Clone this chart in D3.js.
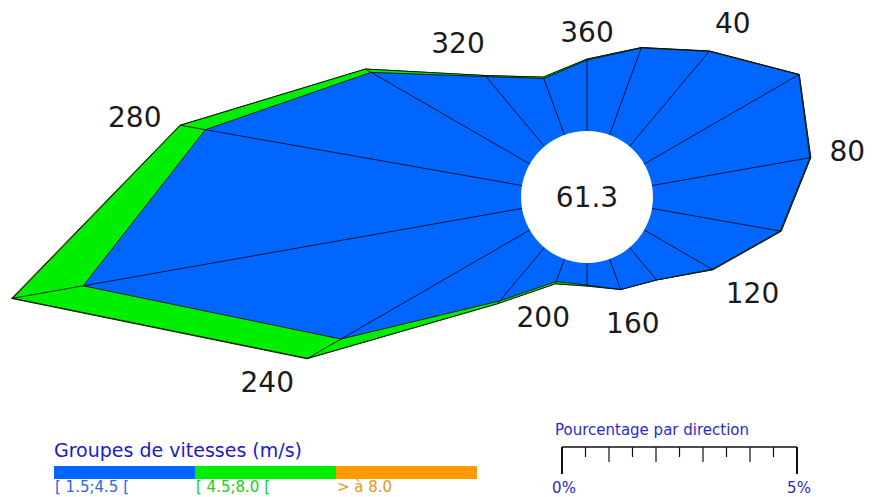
<!DOCTYPE html>
<html>
<head>
<meta charset="utf-8">
<script src="https://cdn.jsdelivr.net/npm/d3@7"></script>
<style>
  body { margin: 0; background: #fff; }
  text { font-family: "DejaVu Sans", Verdana, sans-serif; }
</style>
</head>
<body>
<div id="chart"></div>
<script>

// wind rose - frequency (%) per direction and speed group
var directions = [0, 20, 40, 60, 80, 100, 120, 140, 160, 180, 200, 220, 240, 260, 280, 300, 320, 340];
var lowSpeed  = [1.51, 1.97, 2.64, 3.80, 3.41, 2.77, 1.67, 0.90, 0.69, 0.47, 0.51, 1.48, 4.64, 9.48, 6.84, 3.90, 1.94, 1.28];
var midSpeed  = [0.02, 0.01, 0.01, 0.01, 0.02, 0.02, 0.02, 0.00, 0.00, 0.02, 0.05, 0.08, 0.82, 1.52, 0.54, 0.14, 0.03, 0.03];
var highSpeed = [0.00, 0.00, 0.00, 0.00, 0.00, 0.00, 0.00, 0.00, 0.00, 0.00, 0.00, 0.00, 0.02, 0.03, 0.01, 0.00, 0.00, 0.00];
var calmPct = 61.3;

var speedGroups = ["[ 1.5;4.5 [", "[ 4.5;8.0 [", "> à 8.0"];
var legendTitle = "Groupes de vitesses (m/s)";
var labelDirs = [40, 80, 120, 160, 200, 240, 280, 320, 360];
var scaleTicks = [0, 0.5, 1, 1.5, 2, 2.5, 3, 3.5, 4, 4.5, 5];
var scaleLabels = ["0%", "5%"];
var scaleTitle = "Pourcentage par direction";

var colors = ["#0066ff", "#00ee00", "#ff9900"];
var textColors = ["#3366dd", "#22cc22", "#dd9922"];

var width = 876, height = 497;
var cx = 587, cy = 197, r0 = 66;

var svg = d3.select("#chart")
    .append("svg")
    .attr("width", width)
    .attr("height", height);

var rows = directions.map(function (d, i) {
    return { dir: d, low: lowSpeed[i], mid: midSpeed[i], high: highSpeed[i] };
});
var layers = d3.stack().keys(["low", "mid", "high"])(rows);

var rScale = d3.scaleLinear().domain([0, 5]).range([r0, r0 + 235]);
function rad(deg) { return deg * Math.PI / 180; }

var rose = svg.append("g")
    .attr("transform", "translate(" + cx + "," + cy + ")");

var radial = d3.lineRadial()
    .angle(function (d) { return rad(d.data.dir); })
    .radius(function (d) { return rScale(d[1]); })
    .curve(d3.curveLinearClosed);

rose.selectAll(".layer")
    .data(layers.slice().reverse()).enter()
    .append("path")
    .attr("class", "layer")
    .attr("d", radial)
    .attr("fill", function (l) { return colors[l.index]; })
    .attr("stroke", "#000")
    .attr("stroke-width", 0.8)
    .attr("stroke-linejoin", "round");

var outer = layers[layers.length - 1];

rose.selectAll(".spoke")
    .data(outer).enter()
    .append("line")
    .attr("class", "spoke")
    .attr("x1", 0).attr("y1", 0)
    .attr("x2", function (d) { return d3.pointRadial(rad(d.data.dir), rScale(d[1]))[0]; })
    .attr("y2", function (d) { return d3.pointRadial(rad(d.data.dir), rScale(d[1]))[1]; })
    .attr("stroke", "#000")
    .attr("stroke-width", 0.8);

rose.append("circle")
    .attr("r", r0)
    .attr("fill", "#fff");

rose.append("text")
    .attr("text-anchor", "middle")
    .attr("dy", "0.36em")
    .style("font-size", "28px")
    .attr("fill", "#1a1a1a")
    .text(calmPct.toFixed(1));

// direction labels, pushed out past the outermost vertex
labelDirs.forEach(function (dir) {
    var row = outer.find(function (d) { return d.data.dir === dir % 360; });
    var t = rose.append("text")
        .attr("text-anchor", "middle")
        .attr("dy", "0.36em")
        .style("font-size", "28px")
        .attr("fill", "#1a1a1a")
        .text(dir);
    var halfW = t.node().getComputedTextLength() / 2;
    var a = rad(dir);
    var pad = 18 + halfW * Math.abs(Math.sin(a)) + 9 * Math.abs(Math.cos(a));
    var p = d3.pointRadial(a, rScale(row[1]) + pad);
    t.attr("x", p[0]).attr("y", p[1]);
});

// speed legend
var legendX = d3.scaleBand().domain(speedGroups).range([54, 477]);

svg.append("text")
    .attr("x", 54).attr("y", 457)
    .style("font-size", "19px")
    .attr("fill", "#1a1acc")
    .text(legendTitle);

svg.selectAll(".lg-bar")
    .data(speedGroups).enter()
    .append("rect")
    .attr("x", function (d) { return legendX(d); })
    .attr("y", 466)
    .attr("width", legendX.bandwidth())
    .attr("height", 13)
    .attr("fill", function (d, i) { return colors[i]; });

svg.selectAll(".lg-label")
    .data(speedGroups).enter()
    .append("text")
    .attr("x", function (d) { return legendX(d) + 1; })
    .attr("y", 492)
    .style("font-size", "15px")
    .attr("fill", function (d, i) { return textColors[i]; })
    .text(function (d) { return d; });

// percentage scale bar
var barX = d3.scaleLinear().domain([0, 5]).range([562, 562 + rScale(5) - rScale(0)]);
var bar = svg.append("g").attr("stroke", "#111");

svg.append("text")
    .attr("x", 555).attr("y", 435)
    .style("font-size", "15px")
    .attr("fill", "#2a2acc")
    .text(scaleTitle);

bar.append("line")
    .attr("x1", barX(0)).attr("x2", barX(5))
    .attr("y1", 447).attr("y2", 447)
    .attr("stroke-width", 1.5);

bar.selectAll(".tk")
    .data(scaleTicks).enter()
    .append("line")
    .attr("x1", function (d) { return barX(d); })
    .attr("x2", function (d) { return barX(d); })
    .attr("y1", 447)
    .attr("y2", function (d) {
        if (d === 0 || d === 5) return 474;
        return d % 1 === 0 ? 462 : 457;
    })
    .attr("stroke-width", function (d) { return (d === 0 || d === 5) ? 2 : 1.2; });

svg.selectAll(".sc-label")
    .data(scaleLabels).enter()
    .append("text")
    .attr("x", function (d, i) { return barX(i * 5) + 2; })
    .attr("y", 493)
    .attr("text-anchor", "middle")
    .style("font-size", "15px")
    .attr("fill", "#2a2acc")
    .text(function (d) { return d; });

</script>
</body>
</html>
